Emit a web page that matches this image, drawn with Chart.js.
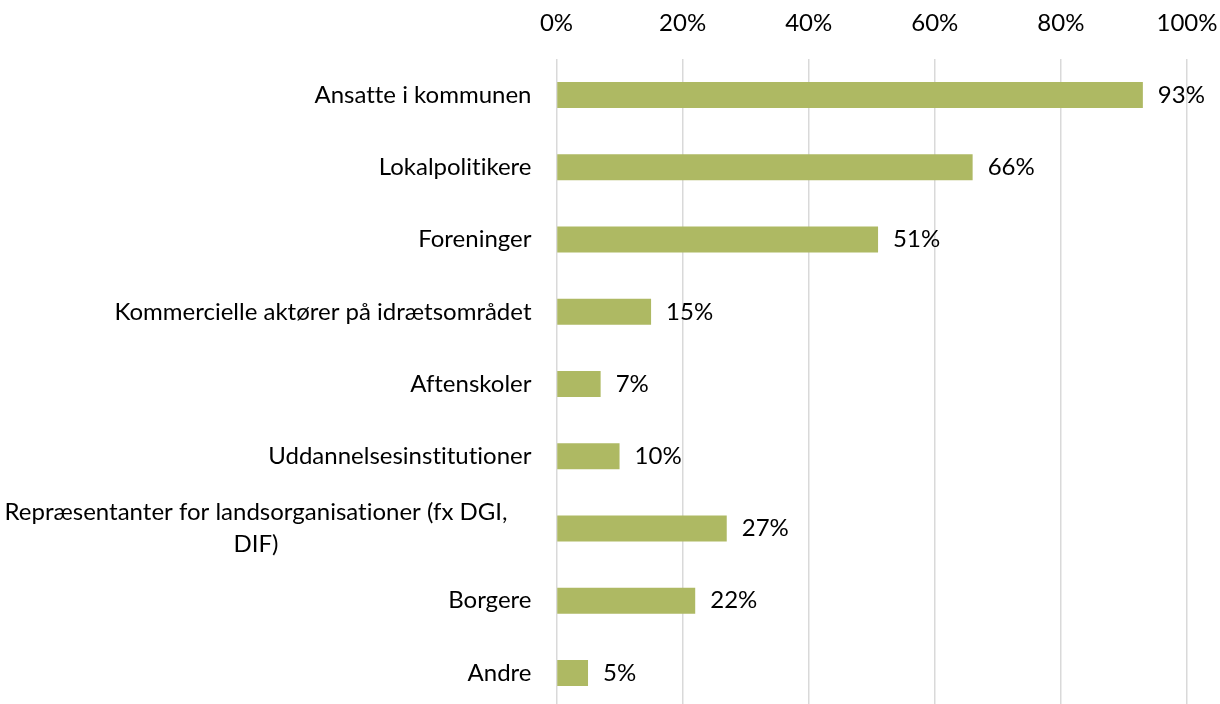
<!DOCTYPE html>
<html>
<head>
<meta charset="utf-8">
<script src="https://cdn.jsdelivr.net/npm/chart.js@4.4.0/dist/chart.umd.min.js"></script>
<style>
    html, body { margin: 0; padding: 0; background: #fff; overflow: hidden; }
    #wrap { width: 1220px; height: 704px; overflow: hidden; }
</style>
</head>
<body>
<div id="wrap"><canvas id="chart" width="1220" height="710"></canvas></div>
<script>
// Categories (top to bottom), multi-line labels as arrays
const categories = [
    'Ansatte i kommunen',
    'Lokalpolitikere',
    'Foreninger',
    'Kommercielle aktører på idrætsområdet',
    'Aftenskoler',
    'Uddannelsesinstitutioner',
    ['Repræsentanter for landsorganisationer (fx DGI,', 'DIF)'],
    'Borgere',
    'Andre'
];
// Share in percent
const shares = [93, 66, 51, 15, 7, 10, 27, 22, 5];
// Tick values of the top axis
const xTicks = [0, 20, 40, 60, 80, 100];

const FONT = 'Lato, "Open Sans", sans-serif';
const FONT_SIZE = 24;
const BAR_COLOR = '#aeb963';
const TEXT_COLOR = '#000000';

// Draws category labels: single lines right aligned, wrapped labels centered
const categoryLabels = {
    id: 'categoryLabels',
    afterDraw(chart) {
        const ctx = chart.ctx;
        const yScale = chart.scales.y;
        const right = chart.chartArea.left - 25;
        const wrapCenter = 256;
        const lineH = 32;
        ctx.save();
        ctx.font = FONT_SIZE + 'px ' + FONT;
        ctx.textRendering = 'optimizeSpeed';
        ctx.fillStyle = TEXT_COLOR;
        ctx.textBaseline = 'middle';
        categories.forEach((lab, i) => {
            const y = yScale.getPixelForTick(i);
            if (Array.isArray(lab)) {
                ctx.textAlign = 'center';
                const top = y - (lab.length - 1) * lineH / 2;
                lab.forEach((line, j) => ctx.fillText(line, wrapCenter, top + j * lineH));
            } else {
                ctx.textAlign = 'right';
                ctx.fillText(lab, right, y);
            }
        });
        ctx.restore();
    }
};

// Value labels to the right of each bar
const valueLabels = {
    id: 'valueLabels',
    afterDatasetsDraw(chart) {
        const ctx = chart.ctx;
        const meta = chart.getDatasetMeta(0);
        ctx.save();
        ctx.font = FONT_SIZE + 'px ' + FONT;
        ctx.fillStyle = TEXT_COLOR;
        ctx.textAlign = 'left';
        ctx.textBaseline = 'middle';
        meta.data.forEach((bar, i) => {
            ctx.fillText(shares[i] + '%', bar.x + 15, bar.y);
        });
        ctx.restore();
    }
};

new Chart(document.getElementById('chart'), {
    type: 'bar',
    data: {
        labels: categories,
        datasets: [{
            data: shares,
            backgroundColor: BAR_COLOR,
            borderWidth: 0,
            barPercentage: 0.36,
            categoryPercentage: 1
        }]
    },
    options: {
        indexAxis: 'y',
        responsive: false,
        animation: false,
        events: [],
        layout: { padding: { left: 0, right: 33, top: 0, bottom: 1 } },
        plugins: {
            legend: { display: false },
            tooltip: { enabled: false }
        },
        scales: {
            x: {
                position: 'top',
                min: 0,
                max: 100,
                afterBuildTicks: (scale) => {
                    scale.ticks = xTicks.map(v => ({ value: v }));
                },
                afterFit: (scale) => {
                    scale.height = 59;
                    scale.paddingLeft = 0;
                    scale.paddingRight = 0;
                },
                ticks: {
                    padding: 21,
                    color: TEXT_COLOR,
                    font: { family: FONT, size: FONT_SIZE },
                    callback: (v) => v + '%'
                },
                grid: { color: '#d9d9d9', lineWidth: 1.5, drawTicks: false },
                border: { display: false }
            },
            y: {
                afterFit: (scale) => { scale.width = 556.5; },
                ticks: { display: false },
                grid: { display: false, drawTicks: false },
                border: { display: false }
            }
        }
    },
    plugins: [categoryLabels, valueLabels]
});
</script>
</body>
</html>
